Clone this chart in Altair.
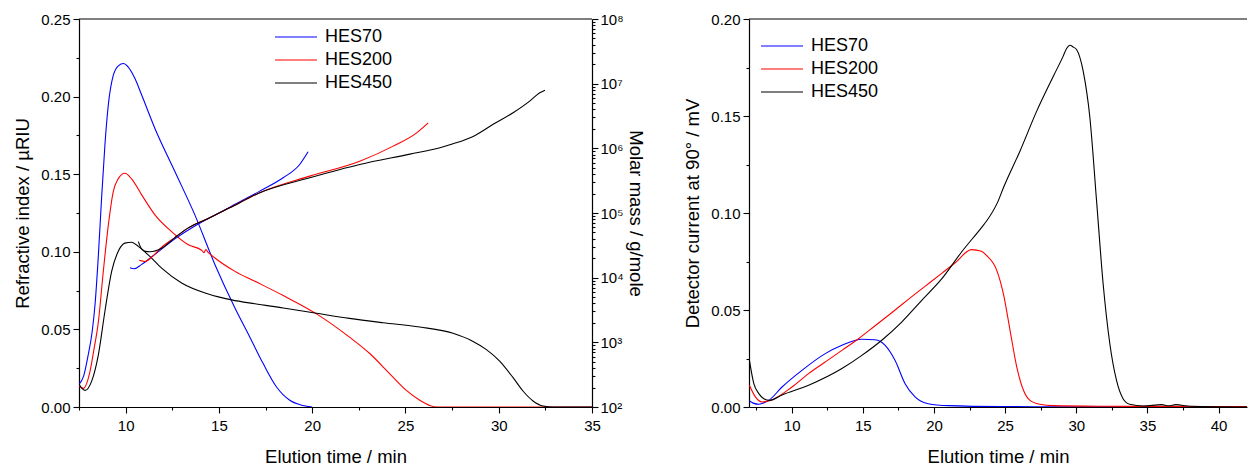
import altair as alt
import pandas as pd

SERIES = ["HES70", "HES200", "HES450"]
COLORS = ["#0000ff", "#ff0000", "#000000"]

# ---- Left panel: refractive index (left axis) ----
ri70_t = [7.5, 7.75, 8.0, 8.2, 8.36, 8.54, 8.71, 8.89, 9.07, 9.34, 9.61, 9.88, 10.14, 10.5, 10.86,
          11.57, 12.64, 13.71, 14.79, 15.86, 16.66, 17.38, 18.09, 18.8, 19.5, 20.0]
ri70_v = [0.0146, 0.020, 0.034, 0.048, 0.066, 0.098, 0.1345, 0.169, 0.1945, 0.2138, 0.2198, 0.2213, 0.219,
          0.2116, 0.201, 0.1795, 0.1517, 0.1238, 0.0917, 0.0638, 0.045, 0.0278, 0.0129, 0.0043, 0.001, 0.0]

ri200_t = [7.5, 7.73, 8.09, 8.3, 8.54, 8.8, 9.07, 9.34, 9.6, 9.96, 10.32, 10.86, 11.57, 12.46, 13.36,
           14.07, 14.2, 14.3, 14.4, 14.79, 15.86, 16.93, 18.45, 20.23, 22.0, 23.1, 24.16, 25.05, 25.77,
           26.3, 26.7, 30.0, 35.0]
ri200_v = [0.0135, 0.012, 0.023, 0.037, 0.055, 0.087, 0.117, 0.139, 0.147, 0.1506, 0.147, 0.1367, 0.1238,
           0.113, 0.1045, 0.101, 0.0995, 0.1015, 0.100, 0.096, 0.0874, 0.081, 0.0718, 0.060, 0.045, 0.0343,
           0.0214, 0.0107, 0.0043, 0.001, 0.0, 0.0, 0.0]

ri450_t = [7.5, 7.82, 8.18, 8.54, 8.89, 9.25, 9.6, 9.96, 10.32, 10.68, 11.21, 11.93, 13.0, 14.43, 15.68,
           16.93, 18.45, 20.23, 22.0, 23.8, 25.77, 27.55, 28.6, 29.34, 30.05, 30.77, 31.3, 31.84, 32.38,
           32.9, 35.0]
ri450_v = [0.0146, 0.0107, 0.0167, 0.0338, 0.0617, 0.0874, 0.1002, 0.1056, 0.1062, 0.1035, 0.098, 0.0895,
           0.0799, 0.0728, 0.069, 0.0665, 0.0638, 0.0604, 0.0571, 0.0543, 0.0515, 0.0475, 0.0424, 0.037,
           0.0296, 0.0189, 0.0103, 0.0039, 0.0006, 0.0, 0.0]

# ---- Left panel: molar mass (right axis, log10 of g/mole) ----
mm70_t = [10.23, 10.46, 10.86, 11.57, 12.64, 13.71, 14.51, 15.58, 17.19, 18.44, 19.33, 19.78]
mm70_log = [4.155, 4.139, 4.206, 4.36, 4.60, 4.80, 4.926, 5.09, 5.338, 5.544, 5.75, 5.946]

mm200_t = [10.73, 11.04, 11.4, 11.93, 12.64, 13.36, 14.51, 15.58, 17.19, 19.87, 22.55, 24.34, 25.6, 26.22]
mm200_log = [4.268, 4.25, 4.32, 4.47, 4.62, 4.77, 4.926, 5.08, 5.315, 5.57, 5.80, 6.034, 6.24, 6.394]

mm450_t = [10.68, 10.8, 11.0, 11.3, 11.93, 12.64, 13.36, 14.51, 15.58, 17.19, 19.87, 22.55, 25.24, 26.85,
           27.55, 28.6, 29.7, 30.77, 31.66, 32.2, 32.48]
mm450_log = [4.557, 4.47, 4.41, 4.40, 4.454, 4.62, 4.77, 4.926, 5.08, 5.312, 5.544, 5.75, 5.91, 6.01,
             6.07, 6.18, 6.371, 6.55, 6.73, 6.86, 6.90]

# ---- Right panel: detector current at 90 deg ----
ls70_t = [7.03, 7.3, 7.69, 8.0, 8.39, 9.32, 10.72, 12.36, 13.53, 14.93, 15.86, 16.57, 17.27, 17.97, 18.67,
          19.6, 21.0, 24.74, 30.0, 35.0, 42.5]
ls70_v = [0.0031, 0.002, 0.0014, 0.002, 0.0034, 0.0103, 0.0189, 0.0275, 0.0318, 0.0349, 0.0347, 0.0318,
          0.024, 0.012, 0.0052, 0.0017, 0.0007, 0.0002, 0.0001, 0.0, 0.0]

ls200_t = [7.03, 7.45, 7.92, 8.27, 8.5, 10.02, 11.19, 12.36, 13.53, 14.7, 15.86, 17.03, 18.2, 19.37, 20.54,
           21.47, 22.64, 23.34, 23.71, 24.42, 24.88, 25.35, 25.82, 26.29, 26.75, 27.45, 28.39, 32.0, 36.0, 42.5]
ls200_v = [0.0112, 0.0052, 0.0026, 0.003, 0.0034, 0.0103, 0.0172, 0.0232, 0.0292, 0.0352, 0.0419, 0.0486,
           0.0555, 0.0622, 0.0689, 0.0742, 0.0811, 0.0803, 0.078, 0.0703, 0.0583, 0.0394, 0.0206, 0.0086,
           0.0034, 0.0014, 0.0007, 0.0004, 0.0003, 0.0002]

ls450_t = [7.03, 7.34, 7.69, 8.04, 8.45, 9.32, 11.19, 13.53, 14.93, 16.33, 17.73, 19.14, 20.54, 21.94,
           23.34, 23.71, 24.5, 24.88, 26.05, 27.22, 28.39, 29.09, 29.3, 29.56, 29.8, 30.02, 30.49, 30.96,
           31.43, 31.89, 32.36, 32.83, 33.29, 33.76, 34.7, 36.0, 36.5, 37.0, 38.0, 42.5]
ls450_v = [0.024, 0.012, 0.0069, 0.0043, 0.0034, 0.0062, 0.0112, 0.0198, 0.0266, 0.0344, 0.0438, 0.055,
           0.066, 0.0799, 0.0925, 0.096, 0.106, 0.113, 0.132, 0.1525, 0.1705, 0.181, 0.1845, 0.1865, 0.1855,
           0.1843, 0.173, 0.149, 0.106, 0.0634, 0.0326, 0.0137, 0.0043, 0.0014, 0.0005, 0.0012, 0.0006,
           0.0012, 0.0004, 0.0]


def frame(ts, vs, name, log=False):
    return pd.DataFrame({
        "t": ts,
        "v": [10 ** x for x in vs] if log else vs,
        "s": name,
    })


ri_df = pd.concat([frame(ri70_t, ri70_v, "HES70"), frame(ri200_t, ri200_v, "HES200"),
                   frame(ri450_t, ri450_v, "HES450")], ignore_index=True)
mm_df = pd.concat([frame(mm70_t, mm70_log, "HES70", True), frame(mm200_t, mm200_log, "HES200", True),
                   frame(mm450_t, mm450_log, "HES450", True)], ignore_index=True)
ls_df = pd.concat([frame(ls70_t, ls70_v, "HES70"), frame(ls200_t, ls200_v, "HES200"),
                   frame(ls450_t, ls450_v, "HES450")], ignore_index=True)

FONT = "Liberation Sans"
W1, W2, H = 513, 498, 388
LBL, TTL = 15, 18.5
XMAX_R = 42.0

color_scale = alt.Scale(domain=SERIES, range=COLORS)


def legend(x, y):
    # long horizontal line symbol (custom path scaled by sqrt(size)/2 -> 42 px long)
    return alt.Legend(orient="none", legendX=x, legendY=y, title=None, symbolType="M-5,0H5",
                      symbolSize=70.56, symbolStrokeWidth=1.2, symbolFillColor="transparent",
                      labelFontSize=18, labelFont=FONT, labelColor="black", labelOffset=20,
                      rowPadding=5, padding=0)


AX = dict(grid=False, labelFont=FONT, titleFont=FONT, labelFontSize=LBL, titleFontSize=TTL,
          titleFontWeight="normal", labelColor="black", titleColor="black", domainColor="black",
          tickColor="black", domainWidth=1.2, tickWidth=1.1, labelFlush=False)


def x_axis(lo, hi):
    vals = []
    v = lo
    while v <= hi + 1e-9:
        vals.append(v)
        v += 2.5
    return alt.Axis(values=vals, title="Elution time / min",
                    labelExpr="round(datum.value*10) % 50 == 0 ? format(datum.value, 'd') : ''",
                    tickSize={"condition": {"test": "round(datum.value*10) % 50 == 0", "value": 6}, "value": 3},
                    labelPadding=5, titlePadding=14, **AX)


def y_axis(title, top):
    n = int(round(top / 0.025))
    return alt.Axis(values=[round(0.025 * i, 3) for i in range(n + 1)], title=title,
                    labelExpr="round(datum.value*1000) % 50 == 0 ? format(datum.value, '.2f') : ''",
                    tickSize={"condition": {"test": "round(datum.value*1000) % 50 == 0", "value": 6}, "value": 3},
                    labelPadding=3, titlePadding=8, **AX)


log_vals = []
for d in range(2, 8):
    for k in range(1, 10):
        log_vals.append(k * 10 ** d)
log_vals.append(10 ** 8)
is_pow = "abs(log(datum.value)/LN10 - round(log(datum.value)/LN10)) < 0.001"
mm_axis = alt.Axis(values=log_vals, orient="right", title="Molar mass / g/mole",
                   labelExpr=is_pow + " ? '10' + ['⁰','¹','²','³','⁴','⁵','⁶','⁷','⁸'][round(log(datum.value)/LN10)] : ''",
                   tickSize={"condition": {"test": is_pow, "value": 6}, "value": 3},
                   labelPadding=2, titlePadding=2, **AX)

top_rule_left = alt.Chart(pd.DataFrame({"a": [0]})).mark_rule(color="black", strokeWidth=1.2).encode(
    x=alt.value(0), x2=alt.value(W1), y=alt.value(0))
top_rule_right = alt.Chart(pd.DataFrame({"a": [0]})).mark_rule(color="black", strokeWidth=1.2).encode(
    x=alt.value(0), x2=alt.value(W2), y=alt.value(0))

ri_line = alt.Chart(ri_df).mark_line(strokeWidth=1.1, clip=True, interpolate="monotone").encode(
    x=alt.X("t:Q", scale=alt.Scale(domain=[7.5, 35], nice=False, zero=False), axis=x_axis(7.5, 35)),
    y=alt.Y("v:Q", scale=alt.Scale(domain=[0, 0.25], nice=False), axis=y_axis("Refractive index / µRIU", 0.25)),
    color=alt.Color("s:N", scale=color_scale, legend=legend(208, 9)),
    detail="s:N",
)
mm_line = alt.Chart(mm_df).mark_line(strokeWidth=1.1, clip=True, interpolate="monotone").encode(
    x=alt.X("t:Q", scale=alt.Scale(domain=[7.5, 35], nice=False, zero=False)),
    y=alt.Y("v:Q", scale=alt.Scale(type="log", domain=[100, 1e8], nice=False), axis=mm_axis),
    color=alt.Color("s:N", scale=color_scale, legend=None),
    detail="s:N",
)
left = alt.layer(ri_line, mm_line, top_rule_left).resolve_scale(y="independent").properties(width=W1, height=H)

ls_line = alt.Chart(ls_df).mark_line(strokeWidth=1.1, clip=True, interpolate="monotone").encode(
    x=alt.X("t:Q", scale=alt.Scale(domain=[7, XMAX_R], nice=False, zero=False), axis=x_axis(7.5, 40)),
    y=alt.Y("v:Q", scale=alt.Scale(domain=[0, 0.2], nice=False), axis=y_axis("Detector current at 90° / mV", 0.2)),
    color=alt.Color("s:N", scale=color_scale, legend=legend(24, 18)),
    detail="s:N",
)
right = alt.layer(ls_line, top_rule_right).properties(width=W2, height=H)

chart = alt.hconcat(left, right, spacing=38).resolve_scale(color="independent").resolve_legend(
    color="independent").properties(
    padding={"left": 5, "top": 4, "right": 0, "bottom": 0}, background="white"
).configure_view(stroke=None)

chart.save("out.html", embed_options={"renderer": "svg", "actions": False})
